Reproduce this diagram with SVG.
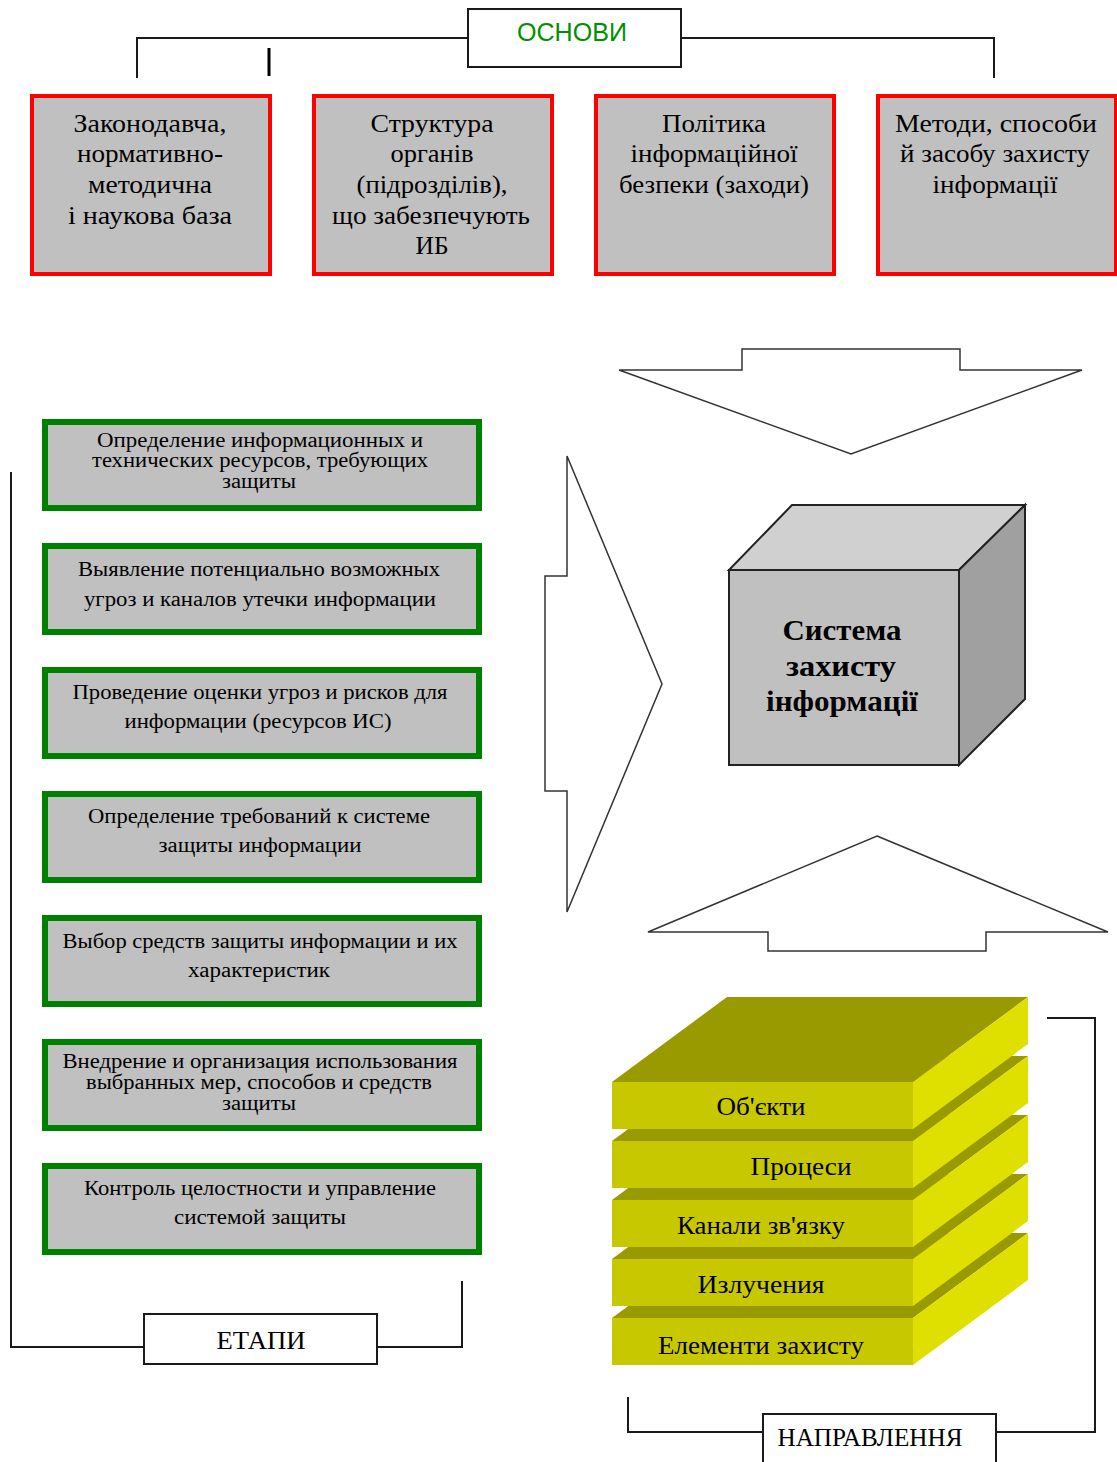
<svg xmlns="http://www.w3.org/2000/svg" width="1117" height="1462" viewBox="0 0 1117 1462">
<style>
.ln{fill:none;stroke:#1a1a1a;stroke-width:2}
.lbl{fill:#fff;stroke:#1a1a1a;stroke-width:2}
.red{fill:#c0c0c0;stroke:#ff0000;stroke-width:4}
.grn{fill:#c0c0c0;stroke:#008000;stroke-width:6}
.arr{fill:#fff;stroke:#333;stroke-width:1.5;stroke-linejoin:miter}
text{font-family:"Liberation Serif","Times New Roman",serif;fill:#000;text-anchor:middle}
text.os{font-family:"Liberation Sans",Arial,sans-serif;fill:#009000;font-size:25px}
.tr{font-size:25px}
.tg{font-size:20px}
.ts{font-size:26px}
.tb{font-size:30px;font-weight:bold}
.top{fill:#999900}
.front{fill:#c8c800}
.side{fill:#e0e000}
</style>
<g id="connectors">
<polyline class="ln" points="137,78 137,38 468,38"/>
<polyline class="ln" points="681,38 994,38 994,78"/>
<line x1="269" y1="48" x2="269" y2="76" stroke="#000" stroke-width="3"/>
<polyline class="ln" points="11,472 11,1347 144,1347"/>
<polyline class="ln" points="377,1347 462,1347 462,1281"/>
<polyline class="ln" points="1047,1018 1095,1018 1095,1432 996,1432"/>
<polyline class="ln" points="628,1397 628,1432 763,1432"/>
</g>
<g id="osnovy">
<rect class="lbl" x="468" y="9" width="213" height="58"/>
<text class="os" x="572" y="41" textLength="110" lengthAdjust="spacingAndGlyphs">ОСНОВИ</text>
</g>
<g id="red1">
<rect class="red" x="32" y="96" width="238" height="178"/>
<text class="tr" x="150" y="132" textLength="153" lengthAdjust="spacingAndGlyphs">Законодавча,</text>
<text class="tr" x="150" y="162" textLength="146" lengthAdjust="spacingAndGlyphs">нормативно-</text>
<text class="tr" x="150" y="193" textLength="124" lengthAdjust="spacingAndGlyphs">методична</text>
<text class="tr" x="150" y="224" textLength="164" lengthAdjust="spacingAndGlyphs">і наукова база</text>
</g>
<g id="red2">
<rect class="red" x="314" y="96" width="238" height="178"/>
<text class="tr" x="432" y="132" textLength="123" lengthAdjust="spacingAndGlyphs">Структура</text>
<text class="tr" x="432" y="162" textLength="83" lengthAdjust="spacingAndGlyphs">органів</text>
<text class="tr" x="432" y="193" textLength="151" lengthAdjust="spacingAndGlyphs">(підрозділів),</text>
<text class="tr" x="431" y="224" textLength="198" lengthAdjust="spacingAndGlyphs">що забезпечують</text>
<text class="tr" x="432" y="254" textLength="33" lengthAdjust="spacingAndGlyphs">ИБ</text>
</g>
<g id="red3">
<rect class="red" x="596" y="96" width="238" height="178"/>
<text class="tr" x="714" y="132" textLength="104" lengthAdjust="spacingAndGlyphs">Політика</text>
<text class="tr" x="714" y="162" textLength="167" lengthAdjust="spacingAndGlyphs">інформаційної</text>
<text class="tr" x="714" y="193" textLength="190" lengthAdjust="spacingAndGlyphs">безпеки (заходи)</text>
</g>
<g id="red4">
<rect class="red" x="878" y="96" width="238" height="178"/>
<text class="tr" x="996" y="132" textLength="202" lengthAdjust="spacingAndGlyphs">Методи, способи</text>
<text class="tr" x="995" y="162" textLength="190" lengthAdjust="spacingAndGlyphs">й засобу захисту</text>
<text class="tr" x="995" y="193" textLength="125" lengthAdjust="spacingAndGlyphs">інформації</text>
</g>
<g id="arrow-down">
<polygon class="arr" points="742,349 960,349 960,370 1082,370 851,454 619,370 742,370"/>
</g>
<g id="arrow-right">
<polygon class="arr" points="567,456 662,684 567,912 567,791 545,791 545,576 567,576"/>
</g>
<g id="arrow-up">
<polygon class="arr" points="877,836 1108,932 986,932 986,951 768,951 768,932 648,932"/>
</g>
<g id="cube">
<polygon points="729,570 792,505 1025,505 959,570" fill="#d0d0d0" stroke="#222" stroke-width="2"/>
<polygon points="959,570 1025,505 1025,699 959,765" fill="#a0a0a0" stroke="#222" stroke-width="2"/>
<rect x="729" y="570" width="230" height="195" fill="#c0c0c0" stroke="#222" stroke-width="2"/>
<text class="tb" x="842" y="640" textLength="119" lengthAdjust="spacingAndGlyphs">Система</text>
<text class="tb" x="841" y="676" textLength="110" lengthAdjust="spacingAndGlyphs">захисту</text>
<text class="tb" x="842" y="711" textLength="152" lengthAdjust="spacingAndGlyphs">інформації</text>
</g>
<g id="g1"><rect class="grn" x="45" y="422" width="434" height="86"/>
<text class="tg" x="260" y="447" textLength="326" lengthAdjust="spacingAndGlyphs">Определение информационных и</text>
<text class="tg" x="260" y="467" textLength="336" lengthAdjust="spacingAndGlyphs">технических ресурсов, требующих</text>
<text class="tg" x="259" y="488" textLength="74" lengthAdjust="spacingAndGlyphs">защиты</text></g>
<g id="g2"><rect class="grn" x="45" y="546" width="434" height="86"/>
<text class="tg" x="259" y="576" textLength="362" lengthAdjust="spacingAndGlyphs">Выявление потенциально возможных</text>
<text class="tg" x="260" y="606" textLength="352" lengthAdjust="spacingAndGlyphs">угроз и каналов утечки информации</text></g>
<g id="g3"><rect class="grn" x="45" y="670" width="434" height="86"/>
<text class="tg" x="260" y="699" textLength="375" lengthAdjust="spacingAndGlyphs">Проведение оценки угроз и рисков для</text>
<text class="tg" x="258" y="728" textLength="267" lengthAdjust="spacingAndGlyphs">информации (ресурсов ИС)</text></g>
<g id="g4"><rect class="grn" x="45" y="794" width="434" height="86"/>
<text class="tg" x="259" y="823" textLength="342" lengthAdjust="spacingAndGlyphs">Определение требований к системе</text>
<text class="tg" x="260" y="852" textLength="203" lengthAdjust="spacingAndGlyphs">защиты информации</text></g>
<g id="g5"><rect class="grn" x="45" y="918" width="434" height="86"/>
<text class="tg" x="260" y="948" textLength="395" lengthAdjust="spacingAndGlyphs">Выбор средств защиты информации и их</text>
<text class="tg" x="259" y="977" textLength="142" lengthAdjust="spacingAndGlyphs">характеристик</text></g>
<g id="g6"><rect class="grn" x="45" y="1042" width="434" height="86"/>
<text class="tg" x="260" y="1068" textLength="395" lengthAdjust="spacingAndGlyphs">Внедрение и организация использования</text>
<text class="tg" x="259" y="1089" textLength="346" lengthAdjust="spacingAndGlyphs">выбранных мер, способов и средств</text>
<text class="tg" x="259" y="1110" textLength="74" lengthAdjust="spacingAndGlyphs">защиты</text></g>
<g id="g7"><rect class="grn" x="45" y="1166" width="434" height="86"/>
<text class="tg" x="260" y="1195" textLength="352" lengthAdjust="spacingAndGlyphs">Контроль целостности и управление</text>
<text class="tg" x="260" y="1224" textLength="172" lengthAdjust="spacingAndGlyphs">системой защиты</text></g>
<g id="etapy">
<rect class="lbl" x="144" y="1314" width="233" height="50"/>
<text class="ts" x="261" y="1349" textLength="89" lengthAdjust="spacingAndGlyphs">ЕТАПИ</text>
</g>
<g id="layers">
<g id="layer5">
<polygon class="top" points="612,1318 727,1233 1028,1233 913,1318"/>
<rect class="front" x="612" y="1318" width="301" height="47"/>
<polygon class="side" points="913,1318 1028,1233 1028,1280 913,1365"/>
<text class="ts" x="761" y="1354" textLength="206" lengthAdjust="spacingAndGlyphs">Елементи захисту</text>
</g>
<g id="layer4">
<polygon class="top" points="612,1259 727,1174 1028,1174 913,1259"/>
<rect class="front" x="612" y="1259" width="301" height="47"/>
<polygon class="side" points="913,1259 1028,1174 1028,1221 913,1306"/>
<text class="ts" x="761" y="1293" textLength="127" lengthAdjust="spacingAndGlyphs">Излучения</text>
</g>
<g id="layer3">
<polygon class="top" points="612,1200 727,1115 1028,1115 913,1200"/>
<rect class="front" x="612" y="1200" width="301" height="47"/>
<polygon class="side" points="913,1200 1028,1115 1028,1162 913,1247"/>
<text class="ts" x="761" y="1234" textLength="168" lengthAdjust="spacingAndGlyphs">Канали зв'язку</text>
</g>
<g id="layer2">
<polygon class="top" points="612,1141 727,1056 1028,1056 913,1141"/>
<rect class="front" x="612" y="1141" width="301" height="47"/>
<polygon class="side" points="913,1141 1028,1056 1028,1103 913,1188"/>
<text class="ts" x="801" y="1175" textLength="101" lengthAdjust="spacingAndGlyphs">Процеси</text>
</g>
<g id="layer1">
<polygon class="top" points="612,1082 727,997 1028,997 913,1082"/>
<rect class="front" x="612" y="1082" width="301" height="47"/>
<polygon class="side" points="913,1082 1028,997 1028,1044 913,1129"/>
<text class="ts" x="761" y="1115" textLength="89" lengthAdjust="spacingAndGlyphs">Об'єкти</text>
</g>
</g>
<g id="napravlennya">
<rect class="lbl" x="763" y="1414" width="233" height="60"/>
<text class="ts" x="870" y="1446" textLength="185" lengthAdjust="spacingAndGlyphs">НАПРАВЛЕННЯ</text>
</g>
</svg>
